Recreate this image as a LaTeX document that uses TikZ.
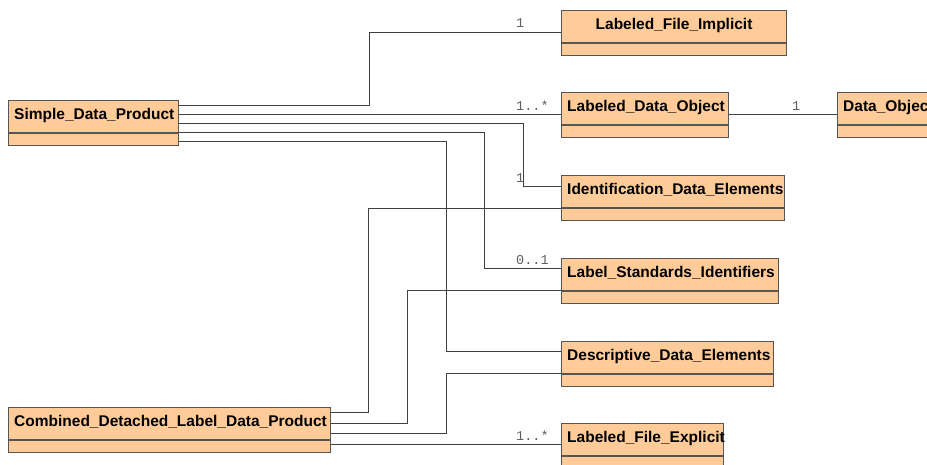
\documentclass[tikz,border=0pt]{standalone}
\usepackage{fontspec}
\setmainfont{Liberation Sans}
\newfontfamily\multfont{Liberation Mono}
\definecolor{classfill}{RGB}{255,204,153}
\definecolor{classline}{RGB}{85,85,85}
\definecolor{wire}{RGB}{64,64,64}
\definecolor{multcol}{RGB}{95,95,95}
\tikzset{
  classhead/.style={draw=classline, fill=classfill, line width=1.1pt, inner sep=0pt,
    anchor=north west, minimum height=32pt},
  classbody/.style={draw=classline, fill=classfill, line width=1.1pt, inner sep=0pt,
    anchor=north west, minimum height=12pt},
  classname/.style={font=\fontsize{15.5}{18}\selectfont\bfseries, inner sep=0pt, text=black},
  assoc/.style={draw=wire, line width=0.9pt},
  mult/.style={font=\multfont\fontsize{13.5}{16}\selectfont, text=multcol, inner sep=0pt, anchor=base west}
}
% one UML class: name, x, y, width, title
\newcommand{\umlclass}[5]{%
  \node[classhead, minimum width=#4pt] (#1) at (#2,#3) {};
  \node[classbody, minimum width=#4pt] (#1-b) at (#1.south west) {};
  \node[classname, anchor=base west] (#1-t) at ([xshift=6pt,yshift=-19pt]#1.north west) {#5};
}
\begin{document}
\begin{tikzpicture}[x=1pt,y=-1pt]
\clip (0,0) rectangle (927,464);
\fill[white] (0,0) rectangle (927,464);

% classes
\umlclass{sdp}{8}{100}{170}{Simple\_Data\_Product}
\node[classhead, minimum width=225pt] (lfi) at (561,10) {};
\node[classbody, minimum width=225pt] (lfi-b) at (lfi.south west) {};
\node[classname, anchor=base] (lfi-t) at ([yshift=-19pt]lfi.north) {Labeled\_File\_Implicit};
\umlclass{ldo}{561}{92}{167}{Labeled\_Data\_Object}
\umlclass{dobj}{837}{92}{150}{Data\_Object}
\umlclass{ide}{561}{175}{223}{Identification\_Data\_Elements}
\umlclass{lsi}{561}{258}{217}{Label\_Standards\_Identifiers}
\umlclass{dde}{561}{341}{212}{Descriptive\_Data\_Elements}
\umlclass{lfe}{561}{423}{162}{Labeled\_File\_Explicit}
\umlclass{cdl}{8}{407}{322}{Combined\_Detached\_Label\_Data\_Product}

% associations from Simple_Data_Product
\draw[assoc] ([yshift=-5pt]sdp.north east) -- ++(190,0) |- ([yshift=-22pt]lfi.north west);
\draw[assoc] ([yshift=-14pt]sdp.north east) -- ([yshift=-22pt]ldo.north west);
\draw[assoc] ([yshift=-23pt]sdp.north east) -- ++(344,0) |- ([yshift=-11pt]ide.north west);
\draw[assoc] ([yshift=-32pt]sdp.north east) -- ++(305,0) |- ([yshift=-10pt]lsi.north west);
\draw[assoc] ([yshift=-41pt]sdp.north east) -- ++(267,0) |- ([yshift=-10pt]dde.north west);

% associations from Combined_Detached_Label_Data_Product
\draw[assoc] ([yshift=-5pt]cdl.north east) -- ++(37,0) |- ([yshift=-33pt]ide.north west);
\draw[assoc] ([yshift=-16pt]cdl.north east) -- ++(76,0) |- ([yshift=-32pt]lsi.north west);
\draw[assoc] ([yshift=-26pt]cdl.north east) -- ++(115,0) |- ([yshift=-32pt]dde.north west);
\draw[assoc] ([yshift=-37pt]cdl.north east) -- ([yshift=-21pt]lfe.north west);

% Labeled_Data_Object to Data_Object
\draw[assoc] ([yshift=-22pt]ldo.north east) -- ([yshift=-22pt]dobj.north west);

% multiplicities
\node[mult] (m1) at (516,27) {1};
\node[mult] (m2) at (516,110) {1..*};
\node[mult] (m3) at (516,182) {1};
\node[mult] (m4) at (516,264) {0..1};
\node[mult] (m5) at (516,440) {1..*};
\node[mult] (m6) at (792,110) {1};
\end{tikzpicture}
\end{document}
